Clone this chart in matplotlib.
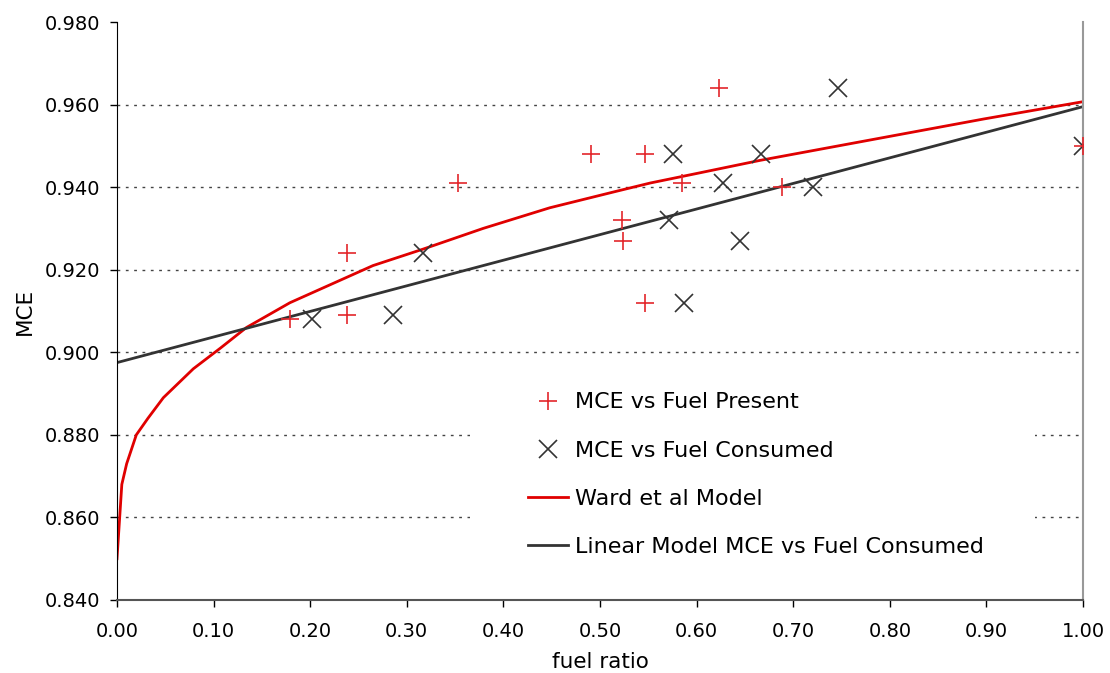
import matplotlib
matplotlib.use("Agg")
import matplotlib.pyplot as plt
from matplotlib.patches import Rectangle
from matplotlib.ticker import FormatStrFormatter

# data
present_x = [0.179, 0.238, 0.238, 0.353, 0.491, 0.547, 0.523, 0.524, 0.547, 0.623, 0.585, 0.688, 1.000]
present_y = [0.908, 0.924, 0.909, 0.941, 0.948, 0.948, 0.932, 0.927, 0.912, 0.964, 0.941, 0.940, 0.950]

consumed_x = [0.202, 0.286, 0.317, 0.576, 0.667, 0.627, 0.720, 0.571, 0.645, 0.587, 0.746, 1.000]
consumed_y = [0.908, 0.909, 0.924, 0.948, 0.948, 0.941, 0.940, 0.932, 0.927, 0.912, 0.964, 0.950]

ward_x = [0.0, 0.005, 0.01, 0.02, 0.032, 0.048, 0.079, 0.107, 0.134, 0.179, 0.265, 0.317,
          0.379, 0.448, 0.517, 0.552, 0.604, 0.666, 0.793, 0.897, 1.0]
ward_y = [0.850, 0.868, 0.873, 0.880, 0.884, 0.889, 0.896, 0.901, 0.906, 0.912, 0.921, 0.925,
          0.930, 0.935, 0.939, 0.941, 0.9435, 0.9465, 0.952, 0.9565, 0.9607]

linear_x = [0.0, 1.0]
linear_y = [0.8975, 0.9595]

plt.rcParams['font.family'] = ['DejaVu Sans']

fig = plt.figure(figsize=(11.1, 6.73), dpi=100)
ax = fig.add_axes([0.1054, 0.1085, 0.8703, 0.8588])

red = '#e3262b'
dark = '#333333'

# white box behind the legend hides part of the grid
ax.add_patch(Rectangle((0.365, 0.052), 0.585, 0.342, transform=ax.transAxes,
                       facecolor='white', edgecolor='none', zorder=1))

ax.plot(ward_x, ward_y, color='#e00000', lw=2.0, zorder=2, label='Ward et al Model')
ax.plot(linear_x, linear_y, color=dark, lw=2.0, zorder=2, label='Linear Model MCE vs Fuel Consumed')
ax.plot(consumed_x, consumed_y, ls='none', marker='x', ms=13, mew=1.2, color=dark,
        zorder=3, label='MCE vs Fuel Consumed')
ax.plot(present_x, present_y, ls='none', marker='+', ms=13, mew=1.2, color=red,
        zorder=4, label='MCE vs Fuel Present')

ax.set_xlim(0, 1)
ax.set_ylim(0.84, 0.98)
ax.set_xticks([i / 10 for i in range(11)])
ax.set_yticks([0.84 + 0.02 * i for i in range(8)])
ax.xaxis.set_major_formatter(FormatStrFormatter('%.2f'))
ax.yaxis.set_major_formatter(FormatStrFormatter('%.3f'))
ax.tick_params(labelsize=14, direction='out', length=5, width=1)
ax.tick_params(axis='x', pad=11)
ax.tick_params(axis='y', pad=7)

for v in [0.86, 0.88, 0.90, 0.92, 0.94, 0.96]:
    ax.axhline(v, color='#444444', lw=1, ls=(0, (2, 4)), zorder=0.5)

ax.spines['top'].set_visible(False)
ax.spines['right'].set_color('#999999')
ax.spines['right'].set_linewidth(1.5)
ax.spines['left'].set_color('black')
ax.spines['bottom'].set_color('#555555')
ax.spines['bottom'].set_linewidth(1.5)

ax.set_xlabel('fuel ratio', fontsize=15.5, labelpad=8)
ax.set_ylabel('MCE', fontsize=15.5, labelpad=7)

h, l = ax.get_legend_handles_labels()
order = [3, 2, 0, 1]
ax.legend([h[i] for i in order], [l[i] for i in order], loc='upper left',
          bbox_to_anchor=(0.4255, 0.359), frameon=False, fontsize=16,
          borderpad=0, borderaxespad=0, handlelength=1.8, handletextpad=0.32,
          labelspacing=1.27)

fig.savefig('out.png', dpi=100)
